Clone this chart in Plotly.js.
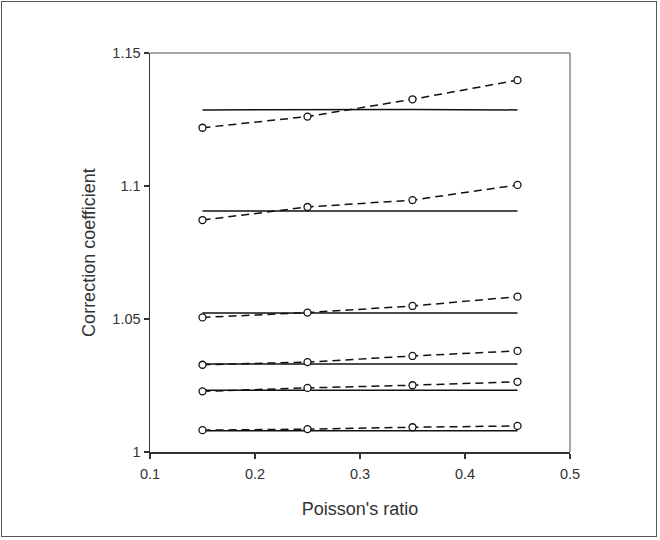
<!DOCTYPE html>
<html>
<head>
<meta charset="utf-8">
<script src="https://cdn.plot.ly/plotly-3.0.1.min.js"></script>
<style>
html,body{margin:0;padding:0;background:#fff;}
#wrap{position:relative;width:660px;height:540px;}
#chart{width:660px;height:540px;}
#frame{position:absolute;left:1px;top:1px;width:656px;height:536px;border:1px solid #555;pointer-events:none;box-sizing:border-box;}
</style>
</head>
<body>
<div id="wrap"><div id="chart"></div><div id="frame"></div></div>
<script>
// Data
const poisson = [0.15, 0.25, 0.35, 0.45];

// solid (constant) curves
const solid1 = [1.1286, 1.1288, 1.1288, 1.1286];
const solid2 = [1.0906, 1.0906, 1.0906, 1.0906];
const solid3 = [1.0523, 1.0523, 1.0523, 1.0523];
const solid4 = [1.0331, 1.0331, 1.0331, 1.0331];
const solid5 = [1.0232, 1.0232, 1.0232, 1.0232];
const solid6 = [1.0080, 1.0080, 1.0080, 1.0080];

// dashed curves with open circle markers
const dashed1 = [1.1219, 1.1261, 1.1326, 1.1398];
const dashed2 = [1.0872, 1.0921, 1.0947, 1.1004];
const dashed3 = [1.0506, 1.0524, 1.0549, 1.0584];
const dashed4 = [1.0328, 1.0338, 1.0361, 1.0380];
const dashed5 = [1.0228, 1.0241, 1.0251, 1.0264];
const dashed6 = [1.0082, 1.0086, 1.0093, 1.0098];

const xTickVals = [0.1, 0.2, 0.3, 0.4, 0.5];
const xTickText = ["0.1", "0.2", "0.3", "0.4", "0.5"];
const yTickVals = [1, 1.05, 1.1, 1.15];
const yTickText = ["1", "1.05", "1.1", "1.15"];

const solids = [solid1, solid2, solid3, solid4, solid5, solid6];
const dashes = [dashed1, dashed2, dashed3, dashed4, dashed5, dashed6];

const traces = [];
solids.forEach(s => traces.push({
  x: poisson, y: s, type: 'scatter', mode: 'lines',
  line: {color: '#111', width: 1.5}, hoverinfo: 'skip', showlegend: false
}));
dashes.forEach(d => traces.push({
  x: poisson, y: d, type: 'scatter', mode: 'lines+markers',
  line: {color: '#111', width: 1.5, dash: '8px,5px'},
  marker: {symbol: 'circle', size: 7, color: '#fff', line: {width: 1.3, color: '#111'}},
  hoverinfo: 'skip', showlegend: false
}));

const layout = {
  width: 660, height: 540,
  margin: {l: 150, r: 90, t: 53, b: 88},
  paper_bgcolor: '#fff', plot_bgcolor: '#fff',
  font: {family: 'Liberation Sans, Arial, sans-serif', size: 14.5, color: '#333'},
  xaxis: {
    range: [0.1, 0.5], tickvals: xTickVals, ticktext: xTickText,
    showgrid: false, zeroline: false, showline: true, linecolor: '#333', linewidth: 1.5,
    ticks: 'outside', ticklen: 5, tickcolor: '#333', tickwidth: 1.2,
    ticklabelstandoff: 3,
    tickfont: {size: 14.5, color: '#333'},
    title: {text: "Poisson's ratio", font: {size: 18, color: '#333'}, standoff: 21}
  },
  yaxis: {
    range: [1, 1.15], tickvals: yTickVals, ticktext: yTickText,
    showgrid: false, zeroline: false, showline: true, linecolor: '#333', linewidth: 1.5,
    ticks: 'outside', ticklen: 5, tickcolor: '#333', tickwidth: 1.2,
    tickfont: {size: 14.5, color: '#333'},
    title: {text: 'Correction coefficient', font: {size: 18, color: '#333'}, standoff: 12}
  },
  shapes: [
    {type: 'line', xref: 'paper', yref: 'paper', x0: 0, x1: 1, y0: 1, y1: 1, line: {color: '#888', width: 1.5}},
    {type: 'line', xref: 'paper', yref: 'paper', x0: 1, x1: 1, y0: 0, y1: 1, line: {color: '#888', width: 1.5}}
  ]
};

Plotly.newPlot('chart', traces, layout, {staticPlot: true, displayModeBar: false});
</script>
</body>
</html>
